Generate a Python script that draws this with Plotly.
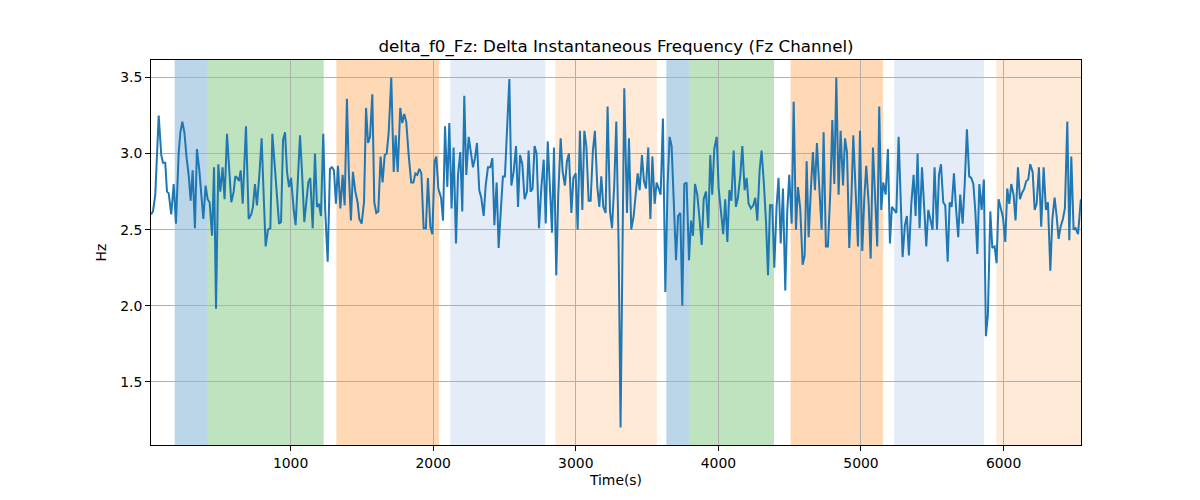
import plotly.graph_objects as go

# Time (s) and delta f0 (Hz) values
time_s = [21, 35, 51, 75, 93, 105, 121, 133, 145, 163, 180, 196, 215, 227, 241, 255, 271, 285, 299, 313,
          329, 343, 360, 374, 388, 404, 418, 432, 449, 463, 477, 493, 507, 523, 537, 554, 570, 584, 601, 612,
          626, 638, 650, 664, 687, 706, 724, 736, 750, 764, 781, 797, 811, 825, 841, 858, 872, 888, 904, 919,
          933, 947, 961, 975, 989, 1003, 1021, 1035, 1049, 1066, 1080, 1096, 1110, 1124, 1138, 1155, 1171, 1185, 1199, 1213,
          1229, 1243, 1260, 1276, 1290, 1304, 1318, 1332, 1349, 1365, 1379, 1395, 1409, 1423, 1437, 1454, 1470, 1482, 1498, 1515,
          1529, 1543, 1557, 1573, 1587, 1601, 1615, 1631, 1645, 1660, 1674, 1688, 1706, 1723, 1737, 1751, 1769, 1783, 1797, 1811,
          1828, 1846, 1861, 1875, 1889, 1903, 1917, 1933, 1949, 1963, 1980, 1994, 2010, 2022, 2036, 2055, 2069, 2083, 2099, 2113,
          2129, 2143, 2160, 2174, 2190, 2204, 2218, 2232, 2249, 2263, 2279, 2293, 2307, 2323, 2337, 2354, 2368, 2384, 2401, 2415,
          2429, 2445, 2459, 2475, 2489, 2503, 2517, 2534, 2548, 2564, 2581, 2595, 2609, 2625, 2641, 2658, 2669, 2683, 2697, 2711,
          2725, 2742, 2758, 2775, 2789, 2803, 2819, 2833, 2847, 2863, 2877, 2894, 2908, 2924, 2938, 2952, 2969, 2983, 2999, 3013,
          3029, 3046, 3060, 3074, 3090, 3104, 3120, 3134, 3151, 3165, 3179, 3193, 3209, 3223, 3240, 3254, 3270, 3284, 3300, 3314,
          3340, 3359, 3373, 3389, 3406, 3420, 3434, 3448, 3464, 3478, 3492, 3508, 3523, 3537, 3553, 3567, 3581, 3595, 3611, 3628,
          3644, 3658, 3672, 3686, 3703, 3717, 3733, 3747, 3761, 3777, 3794, 3808, 3822, 3836, 3852, 3866, 3883, 3897, 3913, 3929,
          3943, 3957, 3971, 3988, 4002, 4018, 4034, 4048, 4063, 4077, 4091, 4107, 4123, 4137, 4154, 4168, 4184, 4198, 4212, 4228,
          4245, 4259, 4273, 4289, 4303, 4320, 4334, 4348, 4362, 4378, 4392, 4408, 4422, 4437, 4453, 4469, 4483, 4497, 4514, 4528,
          4544, 4558, 4574, 4591, 4605, 4619, 4633, 4649, 4663, 4677, 4691, 4708, 4724, 4738, 4754, 4768, 4785, 4799, 4813, 4827,
          4843, 4857, 4874, 4888, 4902, 4918, 4932, 4946, 4962, 4979, 4993, 5009, 5023, 5037, 5054, 5068, 5084, 5098, 5114, 5128,
          5142, 5156, 5173, 5189, 5203, 5217, 5234, 5248, 5264, 5278, 5292, 5308, 5322, 5336, 5353, 5369, 5383, 5397, 5411, 5428,
          5444, 5458, 5472, 5488, 5502, 5516, 5533, 5547, 5561, 5577, 5591, 5608, 5622, 5636, 5652, 5666, 5682, 5696, 5713, 5727,
          5743, 5759, 5773, 5788, 5802, 5816, 5830, 5846, 5862, 5876, 5890, 5907, 5921, 5937, 5951, 5965, 5982, 5996, 6012, 6026,
          6040, 6054, 6070, 6084, 6101, 6115, 6129, 6145, 6159, 6173, 6187, 6204, 6218, 6232, 6248, 6264, 6281, 6297, 6311, 6328,
          6342, 6358, 6372, 6386, 6400, 6416, 6430, 6447, 6461, 6475, 6491, 6505, 6522, 6542]

delta_f0_hz = [2.60, 2.62, 2.73, 3.25, 2.99, 2.94, 2.94, 2.75, 2.74, 2.60, 2.80, 2.54, 3.00, 3.14, 3.21, 3.14, 2.97, 2.86, 2.69, 2.89,
               2.51, 3.03, 2.89, 2.73, 2.57, 2.79, 2.70, 2.68, 2.46, 2.91, 1.98, 2.93, 2.75, 2.91, 2.70, 3.13, 2.88, 2.68, 2.75, 2.85,
               2.84, 2.82, 2.89, 2.67, 3.18, 2.57, 2.60, 2.65, 2.80, 2.66, 2.86, 3.10, 2.73, 2.39, 2.50, 2.51, 3.13, 2.92, 2.68, 2.54,
               2.55, 3.09, 3.14, 2.88, 2.78, 2.84, 2.64, 2.53, 2.79, 3.12, 2.88, 2.55, 2.68, 2.81, 2.84, 2.51, 3.00, 2.65, 2.67, 2.59,
               3.13, 2.62, 2.29, 2.90, 2.91, 2.89, 2.67, 2.92, 2.64, 2.86, 2.66, 3.36, 2.86, 2.56, 2.88, 2.75, 2.68, 2.57, 2.54, 2.68,
               3.30, 3.07, 3.11, 3.39, 2.68, 2.61, 2.62, 2.98, 2.81, 2.99, 3.00, 3.14, 3.50, 2.88, 3.12, 2.88, 3.30, 3.20, 3.26, 3.21,
               2.99, 2.81, 2.81, 2.87, 2.86, 2.90, 2.87, 2.51, 2.51, 2.84, 2.52, 2.47, 2.95, 2.98, 2.77, 2.71, 2.56, 3.18, 2.78, 3.20,
               2.64, 3.04, 2.41, 2.86, 3.01, 2.62, 3.38, 2.86, 3.11, 3.03, 2.91, 2.97, 3.07, 2.76, 2.71, 2.59, 2.79, 2.91, 2.91, 2.97,
               2.53, 2.81, 2.38, 2.64, 2.85, 2.85, 3.14, 3.49, 2.79, 2.88, 3.05, 2.65, 2.99, 2.93, 2.70, 2.75, 3.02, 2.75, 2.77, 3.05,
               3.00, 2.51, 2.77, 2.96, 2.54, 3.08, 2.77, 2.48, 3.04, 2.20, 2.73, 3.10, 2.88, 2.79, 2.95, 3.00, 2.61, 2.84, 2.87, 2.50,
               3.15, 2.63, 3.15, 3.05, 2.69, 2.69, 3.02, 3.15, 2.78, 2.65, 2.85, 2.65, 2.61, 3.31, 2.62, 2.51, 2.80, 3.21, 2.42, 1.20,
               3.43, 2.61, 3.10, 2.50, 2.59, 2.73, 2.87, 2.76, 2.99, 2.82, 2.77, 3.04, 2.57, 2.98, 2.67, 2.81, 2.77, 2.73, 3.23, 2.09,
               2.80, 3.11, 3.05, 2.66, 2.30, 2.59, 2.61, 2.00, 2.80, 2.81, 2.30, 2.56, 2.46, 2.80, 2.73, 2.59, 2.40, 2.70, 2.75, 2.51,
               2.99, 2.73, 3.03, 3.11, 2.77, 2.62, 2.47, 2.70, 2.42, 2.76, 2.69, 3.02, 2.65, 2.71, 2.86, 3.05, 2.76, 2.84, 2.67, 2.64,
               2.66, 2.71, 2.56, 2.89, 3.02, 2.79, 2.55, 2.20, 2.66, 2.66, 2.25, 2.65, 2.84, 2.41, 2.77, 2.10, 2.62, 2.86, 2.54, 3.34,
               2.50, 2.78, 2.64, 2.27, 2.33, 2.95, 2.45, 2.77, 3.01, 2.76, 3.07, 2.77, 2.50, 3.14, 2.39, 2.39, 2.75, 3.22, 2.80, 3.50,
               2.73, 3.15, 2.79, 3.10, 3.01, 2.38, 2.68, 3.12, 2.71, 2.39, 3.15, 2.36, 2.70, 2.92, 2.67, 2.31, 3.04, 2.77, 2.39, 3.31,
               2.63, 2.81, 2.73, 3.03, 2.41, 2.65, 2.63, 2.61, 3.11, 2.64, 2.32, 2.53, 2.59, 2.33, 2.67, 2.86, 2.59, 3.00, 2.51, 2.91,
               2.62, 2.39, 2.63, 2.56, 2.50, 2.91, 2.50, 2.86, 2.93, 2.68, 2.66, 2.29, 2.68, 2.65, 2.87, 2.65, 2.45, 2.73, 2.54, 2.79,
               3.16, 2.85, 2.84, 2.80, 2.62, 2.34, 2.80, 2.63, 2.83, 1.80, 1.94, 2.62, 2.38, 2.39, 2.28, 2.70, 2.63, 2.58, 2.42, 2.77,
               2.67, 2.80, 2.73, 2.56, 2.91, 2.70, 2.74, 2.77, 2.82, 2.83, 2.93, 2.88, 2.63, 2.67, 2.91, 2.52, 2.91, 2.63, 2.68, 2.23,
               2.57, 2.71, 2.59, 2.44, 2.52, 2.57, 2.64, 3.21, 2.43, 2.98, 2.50, 2.51, 2.47, 2.70]

# Shaded segments (start, end, colour)
band_start = [187, 418, 1321, 2120, 2856, 3635, 3796, 4506, 5233, 5949]
band_end = [418, 1232, 2041, 2786, 3569, 3796, 4390, 5154, 5862, 6543]
band_color = ["rgba(31,119,180,0.3)", "rgba(44,160,44,0.3)", "rgba(255,127,14,0.3)",
              "rgba(31,100,200,0.12)", "rgba(255,127,14,0.16)", "rgba(31,119,180,0.3)",
              "rgba(44,160,44,0.3)", "rgba(255,127,14,0.3)", "rgba(31,100,200,0.12)",
              "rgba(255,127,14,0.16)"]

x_ticks = [1000, 2000, 3000, 4000, 5000, 6000]
y_ticks = [1.5, 2.0, 2.5, 3.0, 3.5]

fig = go.Figure()
for s, e, c in zip(band_start, band_end, band_color):
    fig.add_vrect(x0=s, x1=e, fillcolor=c, line_width=0, layer="below")

fig.add_trace(go.Scatter(x=time_s, y=delta_f0_hz, mode="lines",
                         line=dict(color="#1f77b4", width=2), showlegend=False))

font_family = "DejaVu Sans"
fig.update_layout(
    width=1200, height=500,
    margin=dict(l=143, r=127, t=52, b=63),
    paper_bgcolor="white", plot_bgcolor="white",
    font=dict(family=font_family, size=13.9, color="black"),
    title=dict(text="delta_f0_Fz: Delta Instantaneous Frequency (Fz Channel)",
               x=0.5, xref="paper", xanchor="center", y=0.924, yanchor="middle",
               font=dict(size=16.7, family=font_family, color="black")),
)
fig.update_xaxes(range=[21, 6543], tickvals=x_ticks, ticks="outside", ticklen=5,
                 tickcolor="black", showgrid=True, gridcolor="#b0b0b0", gridwidth=1,
                 showline=True, linecolor="black", linewidth=1, mirror=True,
                 zeroline=False, tickfont=dict(size=13.9),
                 title=dict(text="Time(s)", font=dict(size=13.9), standoff=5))
fig.update_yaxes(range=[1.085, 3.615], tickvals=y_ticks, tickformat=".1f", ticks="outside",
                 ticklen=5, tickcolor="black", showgrid=True, gridcolor="#b0b0b0", gridwidth=1,
                 showline=True, linecolor="black", linewidth=1, mirror=True,
                 zeroline=False, tickfont=dict(size=13.9),
                 title=dict(text="Hz", font=dict(size=13.9), standoff=10))

fig.write_html("out.html")
